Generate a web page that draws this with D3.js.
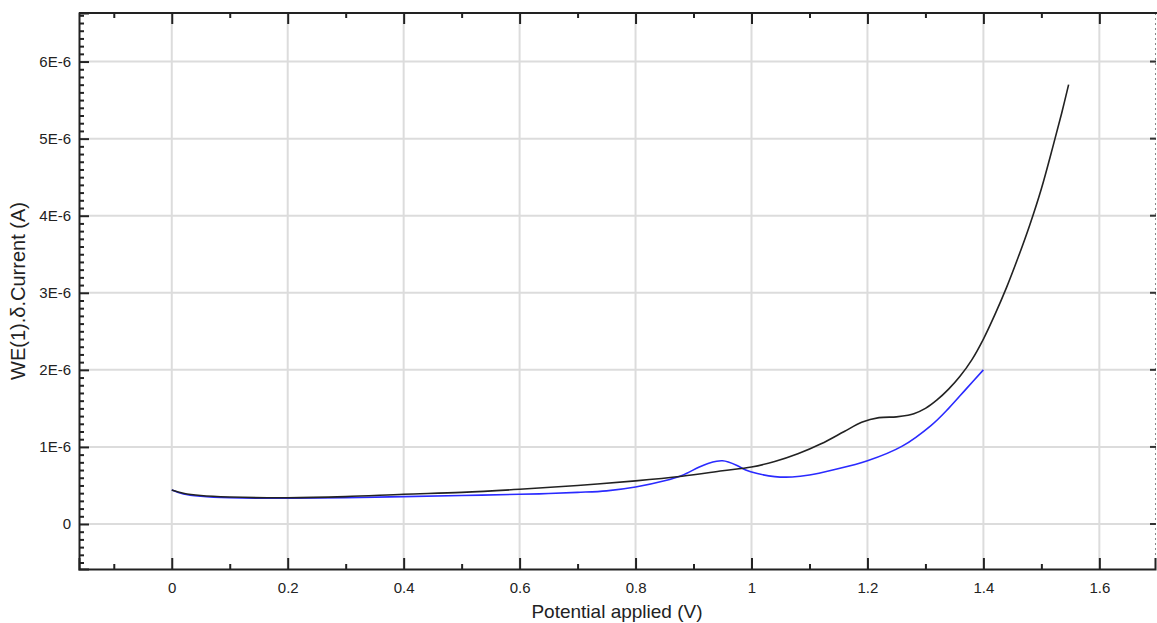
<!DOCTYPE html>
<html>
<head>
<meta charset="utf-8">
<script src="https://cdn.jsdelivr.net/npm/d3@7"></script>
<style>
  html, body { margin: 0; padding: 0; background: #fff; }
  svg { display: block; font-family: "Liberation Sans", Arial, sans-serif; }
</style>
</head>
<body>
<svg id="chart" width="1157" height="623"></svg>
<script>
// ---- data (potential in V, current in A) ----
const blackV = [0, 0.02, 0.05, 0.1, 0.2, 0.3, 0.4, 0.5, 0.6, 0.7, 0.8, 0.88, 0.95, 1.0, 1.04, 1.08, 1.12, 1.16, 1.19, 1.22, 1.25, 1.27, 1.28, 1.30, 1.32, 1.34, 1.36, 1.38, 1.40, 1.42, 1.44, 1.46, 1.48, 1.50, 1.52, 1.535, 1.547];
const blackI = [0.44, 0.40, 0.37, 0.35, 0.34, 0.355, 0.385, 0.41, 0.45, 0.50, 0.56, 0.62, 0.69, 0.74, 0.81, 0.91, 1.04, 1.20, 1.32, 1.38, 1.39, 1.41, 1.43, 1.50, 1.61, 1.75, 1.92, 2.13, 2.40, 2.72, 3.07, 3.46, 3.88, 4.35, 4.90, 5.33, 5.70].map(v => v * 1e-6);
const blueV = [0, 0.02, 0.05, 0.1, 0.2, 0.3, 0.4, 0.5, 0.6, 0.65, 0.7, 0.75, 0.8, 0.85, 0.88, 0.91, 0.925, 0.94, 0.95, 0.96, 0.975, 0.99, 1.01, 1.04, 1.07, 1.1, 1.14, 1.2, 1.26, 1.31, 1.34, 1.37, 1.40];
const blueI = [0.44, 0.39, 0.36, 0.34, 0.335, 0.34, 0.355, 0.37, 0.385, 0.395, 0.41, 0.43, 0.48, 0.56, 0.63, 0.74, 0.785, 0.815, 0.82, 0.805, 0.76, 0.70, 0.655, 0.615, 0.61, 0.635, 0.70, 0.82, 1.01, 1.28, 1.50, 1.75, 2.00].map(v => v * 1e-6);

const xTicks = [0, 0.2, 0.4, 0.6, 0.8, 1.0, 1.2, 1.4, 1.6];
const xTickLabels = ["0", "0.2", "0.4", "0.6", "0.8", "1", "1.2", "1.4", "1.6"];
const xMinorTicks = [-0.1, 0.1, 0.3, 0.5, 0.7, 0.9, 1.1, 1.3, 1.5];
const yTicks = [0, 1e-6, 2e-6, 3e-6, 4e-6, 5e-6, 6e-6];
const yTickLabels = ["0", "1E-6", "2E-6", "3E-6", "4E-6", "5E-6", "6E-6"];
const yMinorTicks = d3.range(-5, 67).filter(i => i % 10 !== 0).map(i => i * 1e-7);
const xTitle = "Potential applied (V)";
const yTitle = "WE(1).\u03b4.Current (A)";

// ---- layout ----
const L = 79, R = 1155, T = 13, B = 569;
const svg = d3.select("#chart");
const x = d3.scaleLinear().domain([-0.16, 1.696]).range([L, R]);
const y = d3.scaleLinear().domain([-0.584e-6, 6.63e-6]).range([B, T]);

// grid
const grid = svg.append("g").attr("stroke", "#dcdcdc").attr("stroke-width", 2);
grid.selectAll(".gx").data(xTicks).join("line")
  .attr("x1", d => x(d)).attr("x2", d => x(d)).attr("y1", T).attr("y2", B);
grid.selectAll(".gy").data(yTicks).join("line")
  .attr("x1", L).attr("x2", R).attr("y1", d => y(d)).attr("y2", d => y(d));

// right border (dotted) + short ticks
svg.append("line").attr("x1", R + 0.5).attr("x2", R + 0.5).attr("y1", T).attr("y2", B)
  .attr("stroke", "#888").attr("stroke-width", 1).attr("stroke-dasharray", "2,3");
svg.append("g").selectAll("line").data(yTicks).join("line")
  .attr("x1", R - 5).attr("x2", R + 1).attr("y1", d => y(d)).attr("y2", d => y(d))
  .attr("stroke", "#333").attr("stroke-width", 2);

// curves
const line = d3.line().curve(d3.curveCatmullRom.alpha(0.5)).x(d => x(d[0])).y(d => y(d[1]));
svg.append("path").datum(blueV.map((v, i) => [v, blueI[i]]))
  .attr("d", line).attr("fill", "none").attr("stroke", "#2a2aff").attr("stroke-width", 1.6);
svg.append("path").datum(blackV.map((v, i) => [v, blackI[i]]))
  .attr("d", line).attr("fill", "none").attr("stroke", "#222").attr("stroke-width", 1.6);

// axes
function styleAxis(g) {
  g.select(".domain").attr("stroke", "#222").attr("stroke-width", 2);
  g.selectAll(".tick line").attr("stroke", "#222").attr("stroke-width", 2);
  g.selectAll(".tick text").attr("fill", "#222").attr("font-size", 15);
}
const yAxis = svg.append("g").attr("transform", `translate(${L},0)`)
  .call(d3.axisLeft(y).tickValues(yTicks).tickSize(-10).tickPadding(8)
    .tickFormat((d, i) => yTickLabels[i]));
styleAxis(yAxis);
const yMinor = svg.append("g").attr("transform", `translate(${L},0)`)
  .call(d3.axisLeft(y).tickValues(yMinorTicks).tickSize(-5).tickFormat(""));
styleAxis(yMinor); yMinor.select(".domain").remove();

const xAxis = svg.append("g").attr("transform", `translate(0,${B})`)
  .call(d3.axisBottom(x).tickValues(xTicks).tickSize(-11).tickPadding(13)
    .tickFormat((d, i) => xTickLabels[i]));
styleAxis(xAxis);
const xMinor = svg.append("g").attr("transform", `translate(0,${B})`)
  .call(d3.axisBottom(x).tickValues(xMinorTicks).tickSize(-5).tickFormat(""));
styleAxis(xMinor); xMinor.select(".domain").remove();

const xTop = svg.append("g").attr("transform", `translate(0,${T})`)
  .call(d3.axisTop(x).tickValues(xTicks).tickSize(-11).tickFormat(""));
styleAxis(xTop);
xTop.select(".domain").attr("d", `M${L},0H${R + 2}`);
const xTopMinor = svg.append("g").attr("transform", `translate(0,${T})`)
  .call(d3.axisTop(x).tickValues(xMinorTicks).tickSize(-5).tickFormat(""));
styleAxis(xTopMinor); xTopMinor.select(".domain").remove();

// titles
svg.append("text").attr("x", (L + R) / 2).attr("y", 618).attr("text-anchor", "middle")
  .attr("font-size", 19).attr("fill", "#222").text(xTitle);
svg.append("text").attr("transform", `translate(25,${(T + B) / 2}) rotate(-90)`)
  .attr("text-anchor", "middle").attr("font-size", 20).attr("fill", "#222").text(yTitle);
</script>
</body>
</html>
